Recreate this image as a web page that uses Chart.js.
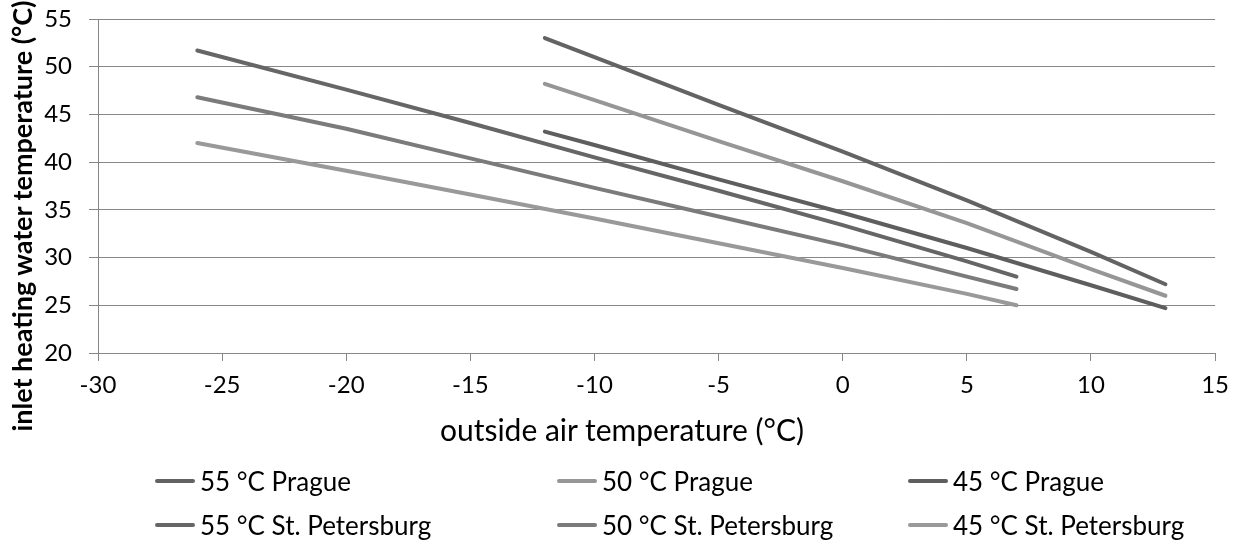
<!DOCTYPE html>
<html>
<head>
<meta charset="utf-8">
<script src="https://cdn.jsdelivr.net/npm/chart.js@4.4.1/dist/chart.umd.min.js"></script>
<style>
  body { margin: 0; background: #fff; }
  #wrap { position: relative; width: 1239px; height: 543px; }
  #legend { position: absolute; left: 0; top: 0; width: 1239px; height: 543px; pointer-events: none;
            font-family: Lato, sans-serif; font-size: 26px; color: #000; }
  .item { position: absolute; display: flex; align-items: center; white-space: nowrap; }
  .swatch { width: 40px; height: 4px; margin-right: 5px; border-radius: 2px; }
  #xtitle { position: absolute; top: 411px; left: 322px; width: 600px; text-align: center;
            font-family: Lato, sans-serif; font-size: 30px; line-height: 36px; color: #000; }
  #ytitle { position: absolute; left: 22px; top: 216px; width: 600px; margin-left: -300px; margin-top: -17px;
            transform: rotate(-90deg); text-align: center; white-space: nowrap;
            font-family: Lato, sans-serif; font-size: 27px; font-weight: bold; line-height: 34px; color: #000; }
</style>
</head>
<body>
<div id="wrap">
  <canvas id="myChart" width="1239" height="543"></canvas>
  <div id="legend"></div>
  <div id="xtitle"></div>
  <div id="ytitle"></div>
</div>
<script>
// outside air temperature (°C) where each curve is read
var xPrague = [-12, -10, -5, 0, 5, 10, 13];
var xStPetersburg = [-26, -20, -15, -10, -5, 0, 5, 7];

// inlet heating water temperature (°C)
var prague55 = [53.0, 51.0, 46.0, 41.1, 36.0, 30.6, 27.2];
var prague50 = [48.2, 46.5, 42.2, 38.0, 33.6, 28.8, 26.0];
var prague45 = [43.2, 41.8, 38.2, 34.7, 31.0, 27.1, 24.7];
var stp55 = [51.7, 47.6, 44.1, 40.5, 37.0, 33.4, 29.6, 28.0];
var stp50 = [46.8, 43.5, 40.4, 37.3, 34.3, 31.3, 28.0, 26.7];
var stp45 = [42.0, 39.1, 36.6, 34.1, 31.5, 28.9, 26.2, 25.0];

var seriesLabels = ['55 °C Prague', '50 °C Prague', '45 °C Prague',
                    '55 °C St. Petersburg', '50 °C St. Petersburg', '45 °C St. Petersburg'];

var xTitle = 'outside air temperature (°C)';
var yTitle = 'inlet heating water temperature (°C)';

function pts(xs, ys) {
    return xs.map(function (x, i) { return {x: x, y: ys[i]}; });
}

var colors = ['#636363', '#969696', '#5e5e5e', '#666666', '#7b7b7b', '#999999'];
var seriesX = [xPrague, xPrague, xPrague, xStPetersburg, xStPetersburg, xStPetersburg];
var seriesY = [prague55, prague50, prague45, stp55, stp50, stp45];

var datasets = seriesLabels.map(function (lbl, i) {
    return {
        label: lbl,
        data: pts(seriesX[i], seriesY[i]),
        borderColor: colors[i],
        backgroundColor: colors[i],
        borderWidth: 4,
        borderCapStyle: 'round',
        borderJoinStyle: 'round',
        pointRadius: 0,
        tension: 0,
        fill: false
    };
});

var gridColor = '#878787';
var font = {family: 'Lato, sans-serif', size: 24};

var ctx = document.getElementById('myChart').getContext('2d');
var chart = new Chart(ctx, {
    type: 'line',
    data: {datasets: datasets},
    options: {
        responsive: false,
        animation: false,
        layout: {padding: {left: 0, right: 22, top: 19, bottom: 90}},
        plugins: {legend: {display: false}, tooltip: {enabled: false}},
        scales: {
            x: {
                type: 'linear',
                min: -30, max: 15,
                ticks: {stepSize: 5, color: '#000', font: font, padding: 10, maxRotation: 0},
                grid: {drawOnChartArea: false, drawTicks: true, tickLength: 8, color: gridColor},
                border: {color: gridColor},
                afterFit: function (s) { s.height = 100; }
            },
            y: {
                min: 20, max: 55,
                ticks: {stepSize: 5, color: '#000', font: font, padding: 17},
                grid: {drawTicks: true, tickLength: 9, color: gridColor},
                border: {color: gridColor},
                afterFit: function (s) {
                    s.width = 98;
                    s.paddingTop = 0;
                    s.paddingBottom = 0;
                }
            }
        }
    }
});

document.getElementById('xtitle').textContent = xTitle;
document.getElementById('ytitle').textContent = yTitle;

// legend laid out in three columns, two rows
var legend = document.getElementById('legend');
var colLeft = [155, 557, 908];
var rowMid = [481, 525];
seriesLabels.forEach(function (lbl, i) {
    var item = document.createElement('div');
    item.className = 'item';
    item.style.left = colLeft[i % 3] + 'px';
    item.style.top = (rowMid[Math.floor(i / 3)] - 16) + 'px';
    item.style.height = '32px';
    var sw = document.createElement('span');
    sw.className = 'swatch';
    sw.style.background = colors[i];
    var tx = document.createElement('span');
    tx.textContent = lbl;
    item.appendChild(sw);
    item.appendChild(tx);
    legend.appendChild(item);
});
</script>
</body>
</html>
